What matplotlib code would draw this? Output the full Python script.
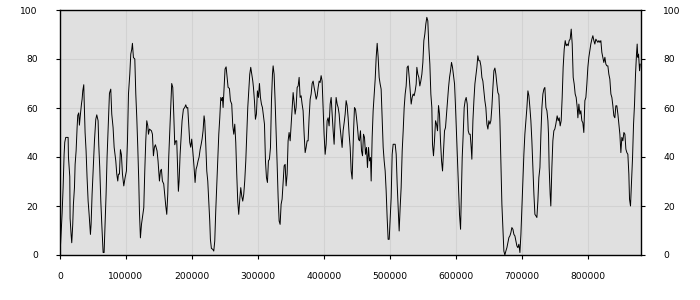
import numpy as np
import matplotlib
matplotlib.use("Agg")
import matplotlib.pyplot as plt

# posiciones en miles (eje x) y valores, por tramos
pos_a = [0, 3.2, 4.7, 6.2, 7.2, 8.7, 12.3, 12.8, 14.8, 15.3,
         16.8, 17.8, 19.3, 20.3, 21.9, 22.9, 24.4, 25.9, 26.9, 28.4,
         29.4, 30.4, 32.5, 33.5, 34.5, 36, 36.5, 38, 39.5, 41,
         42.6, 44.1, 46.1, 47.1, 48.6, 50.6, 52.2, 54.2, 55.7, 57.7,
         58.7, 60.2, 61.8, 63.3, 65.3, 66.8, 68.3, 69.8, 71.3, 73.4,
         74.9, 76.9, 78.4, 80.4, 82, 84.5, 86, 87.5, 88.5, 90,
         91.5, 93, 94.6, 96.6, 98.6, 100.6, 102.2, 103.7, 105.7, 107.2,
         108.7, 109.7, 111.2, 113.3, 114.8, 116.3, 117.8, 119.3, 120.3, 121.8,
         123.4, 124.9, 126.9, 128.4, 129.9, 131.4, 133, 134, 135.5, 138.5,
         140, 141.5, 143]
val_a = [0, 17, 27.5, 41, 46, 48, 48, 40, 32, 15,
         8.4, 5, 12.5, 20.7, 27.5, 37, 42.5, 52, 57, 58,
         53, 56, 61.6, 63.6, 67, 69.5, 64, 50, 42.5, 31.6,
         22, 16.6, 8.4, 12.5, 24.8, 37, 46.6, 55.4, 57.2, 54.8,
         45, 35.7, 22, 12.5, 1, 1, 12.5, 24.8, 40, 55,
         66, 67.7, 57.5, 52, 44, 38.4, 33, 30.2, 33, 33,
         43, 41, 33, 28.2, 31.6, 34.3, 46.6, 65.7, 73.8, 82,
         84, 86.4, 80.6, 80, 65.7, 56, 44, 30.2, 18, 7,
         12.5, 15.3, 19.3, 34.3, 46.6, 54.8, 52.7, 49.3, 51.4, 50.7,
         49.3, 40.5, 44]

pos_b = [144.5, 147, 148.5, 150.6, 152.1, 153.6, 155.1, 157.1, 158.6, 160.2,
         161.7, 163.2, 164.7, 166.2, 167.7, 169.2, 170.8, 172.3, 173.8, 175.3,
         176.8, 177.8, 179.3, 180.4, 181.9, 183.4, 184.9, 186.9, 188.9, 190.5,
         192, 193.5, 195, 196.5, 198, 199.5, 201.1, 203.1, 204.6, 206.1,
         207.6, 209.1, 210.7, 212.2, 213.7, 215.2, 216.7, 218.2, 219.2, 220.8,
         222.3, 223.8, 225.3, 226.8, 227.8, 229.3, 231.4, 232.9, 234.4, 235.9,
         237.4, 238.9, 240.5, 242, 243.5, 245, 246, 247, 248.5, 250,
         251.6, 253.1, 254.6, 256.6, 258.1, 260.1, 261.7, 263.2, 264.7, 266.2,
         267.7, 269.2, 270.7, 272.3, 273.8, 275.3, 276.8, 278.3, 279.8, 281.4,
         282.9, 284.4, 285.9, 287.4, 288.9, 290.4, 292]
val_b = [45, 42.5, 38.4, 30.2, 34.3, 35, 30.2, 29, 24.8, 20,
         16.6, 24.8, 40, 50.7, 60.2, 70, 68.4, 57.5, 45, 46.6,
         46.6, 38.4, 26, 30.2, 41, 48, 54.8, 59.5, 60.2, 61.3,
         60, 60.2, 53.4, 46, 44, 47.3, 42.5, 35.7, 29.6, 35,
         36.4, 38.4, 40, 43, 45, 47.3, 50.7, 56.8, 54.8, 45,
         34.3, 30.2, 22, 13.9, 6.4, 2.7, 2.3, 1.6, 5.7, 18,
         28.2, 38.4, 49.3, 56, 64.3, 63, 64.3, 60.2, 68.4, 75.9,
         76.8, 72.5, 68.4, 68, 63, 61.6, 52.7, 49.3, 53.4, 46,
         33, 22, 16.6, 22.8, 27.5, 24, 22, 24.8, 30.2, 38.4,
         49.3, 60.2, 67, 73.8, 76.6, 73.8, 71]

pos_c = [293, 294.5, 296, 297.5, 299, 300.6, 302.1, 303.6, 305.1, 306.6,
         308.2, 309.7, 311.2, 312.7, 314.2, 315.7, 317.2, 318.8, 320.3, 321.8,
         322.8, 324.3, 325.8, 327.3, 328.9, 330.4, 331.9, 333.4, 334.9, 336.4,
         338, 339.5, 341, 342.5, 344, 345.5, 347, 348.6, 350.1, 351.6,
         353.1, 354.6, 356.1, 357.6, 359.2, 360.7, 362.2, 363.7, 365.2, 366.7,
         368.2, 369.8, 371.3, 372.8, 374.3, 375.8, 377.3, 378.9, 380.4, 381.9,
         383.4, 384.9, 386.4, 388, 389.5, 391, 392.5, 394, 395.5, 397,
         398.5, 400, 401.6, 403.1, 404.6, 406.1, 407.6, 409.2, 410.7, 412.2,
         413.7, 415.2, 416.7, 418.2, 419.8, 421.3, 422.8, 424.3, 425.8, 427.3,
         428.8, 430.4, 431.9, 433.4, 434.9, 436.4, 437.9, 439.5, 441, 442.5]
val_c = [68.4, 63, 55.4, 57.5, 67, 64.3, 70, 64.3, 61.6, 60.2,
         56.8, 53.4, 38.4, 31.6, 29.6, 38.4, 39.1, 43.9, 63, 73.8,
         77.2, 73.8, 63, 50.7, 37, 23.4, 13.9, 12.5, 20.7, 22.8,
         30.2, 36.4, 37, 28.2, 33, 46.6, 50, 46.6, 53.4, 60.2,
         66.3, 62.3, 57.5, 60.2, 68.4, 69, 72.5, 64.3, 65, 61.6,
         58.9, 49.3, 41.8, 43.9, 46.6, 46.6, 56, 63.6, 65.7, 70,
         71, 68.4, 66.3, 63.6, 65, 68.4, 71, 70.4, 73.2, 71,
         60.2, 49.3, 41.1, 45.2, 54.8, 56, 52.7, 61.6, 64.3, 57.5,
         50.7, 45.2, 56, 64.3, 61.6, 60.2, 57.5, 52, 48, 43.9,
         50.7, 54, 57.5, 63, 61, 56, 49.3, 43.9, 34.3, 31]

pos_d = [444.5, 446, 447.6, 449.1, 450.6, 452.1, 453.6, 455.1, 456.7, 458.2,
         459.7, 461.2, 462.7, 464.2, 465.7, 467.3, 468.8, 470.3, 471.3, 472.8,
         474.3, 475.8, 477.4, 478.9, 480.4, 481.9, 483.4, 484.9, 486.4, 488,
         489.5, 491, 492.5, 494, 495.5, 497, 498.6, 500.1, 501.6, 503.1,
         504.6, 507.7, 509.2, 510.7, 512.2, 513.7, 515.2, 516.7, 518.3, 519.8,
         521.3, 522.8, 524.3, 525.8, 527.4, 528.9, 530.4, 531.9, 533.4, 534.9,
         536.4, 538, 539.5, 540.5, 542, 543.5, 545, 546.5, 548.1, 549.6,
         551.1, 552.6, 554.1, 555.6, 557.1, 558.7, 560.2, 561.7, 563.2, 564.2,
         565.7, 567.2, 568.8, 570.3, 571.8, 573.3, 574.8, 576.3, 577.9, 579.4,
         580.9, 582.4, 583.9, 585.4, 587, 588.5, 590]
val_d = [49.3, 60.2, 59.5, 56, 52, 47.3, 46.6, 50.7, 42.5, 40.5,
         49.3, 48, 41.1, 43.9, 35.7, 43.9, 38.4, 39.8, 30.2, 48,
         58.9, 65, 71.8, 80.7, 86.4, 80.7, 72.5, 69.8, 67.7, 56,
         43.9, 38.4, 34.3, 26.2, 15.3, 6.4, 6.4, 15.3, 23.4, 41.1,
         45.2, 45.2, 41.1, 28.9, 19.3, 9.8, 19.3, 27.5, 42.5, 50.7,
         60.2, 65.7, 69, 76.6, 77.2, 72.5, 67, 61.6, 64.3, 65.7,
         65, 67, 69.8, 76.6, 73.8, 72.5, 69, 71, 73.8, 78.6,
         87.5, 90.2, 94.3, 97, 95.6, 84.7, 77.9, 65.7, 60.2, 45.2,
         40.5, 46.6, 54.8, 53.4, 50.7, 61, 57.5, 46.6, 38.4, 34.3,
         42.5, 50.7, 52, 57.5, 63, 68.4, 72.5]

pos_e = [591.5, 593, 594.5, 596, 597.6, 599.1, 600.6, 602.1, 603.6, 605.1,
         606.7, 607.7, 609.2, 610.7, 612.2, 613.7, 615.2, 616.8, 618.3, 619.8,
         621.3, 622.8, 623.8, 625.4, 626.9, 628.4, 629.9, 631.4, 632.9, 634.4,
         636, 637.5, 639, 640.5, 642, 643.5, 645, 646.6, 648.1, 649.6,
         651.1, 652.6, 654.1, 655.7, 657.2, 658.7, 660.2, 661.7, 663.2, 664.7,
         666.3, 667.8, 669.3, 670.8, 672.3, 673.8, 675.3, 676.9, 678.4, 679.9,
         681.4, 682.9, 684.4, 686, 687.5, 689, 690.5, 692, 693.5, 695,
         696.6, 698.1, 699.6, 701.1, 702.6, 704.1, 705.6, 707.2, 708.7, 710.2,
         711.7, 713.2, 714.7, 716.3, 717.8, 719.3, 720.8, 722.3, 723.8, 725.3,
         726.9, 728.4, 729.9, 731.4, 732.9, 734.4, 736, 737.5, 739]
val_e = [75.2, 78.6, 76.6, 73.2, 69.8, 60.2, 49.3, 38.4, 27.5, 16.6,
         10.5, 22, 39.8, 49.3, 60.2, 63, 64.3, 61.6, 50.7, 49.3,
         49.3, 43.9, 39.1, 54.8, 63, 69.8, 73.2, 76.6, 81.3, 79.3,
         79.3, 77.2, 72.5, 71, 67, 63, 60.2, 53.4, 51.4, 54.8,
         53.4, 54.8, 60.2, 68.4, 75.2, 76.3, 73.8, 69.8, 66.3, 65.4,
         54.8, 38.4, 20.7, 11.2, 1.6, 0, 1.6, 3, 5, 7.1,
         7.8, 9.1, 11.2, 10.5, 8.4, 7.8, 5.7, 3.7, 3, 4.4,
         1, 8.4, 19.3, 30.2, 41.1, 49.3, 54.8, 60.2, 67, 65,
         60.2, 54.8, 46.6, 35.7, 24.8, 16.6, 16, 15.3, 22, 31.6,
         35.7, 49.3, 60.2, 65.7, 67.7, 68.4, 60.2, 58.9, 54.8]

pos_f = [739.9, 740.9, 742.4, 743.4, 745, 746.5, 748, 749.5, 751, 753,
         754.6, 756.1, 757.6, 759.1, 760.6, 762.1, 763.7, 765.2, 766.7, 768.2,
         769.7, 771.2, 772.7, 774.3, 775.8, 777.3, 778.8, 780.3, 781.8, 783.4,
         784.4, 785.9, 787.4, 788.9, 790.4, 791.9, 793.4, 795, 796.5, 798,
         799.5, 801, 802.5, 804, 805.6, 807.1, 808.6, 810.1, 811.6, 813.1,
         814.7, 816.2, 817.7, 819.2, 820.7, 822.2, 823.7, 825.3, 826.8, 828.3,
         829.8, 831.3, 832.8, 834.4, 835.9, 837.4, 838.9, 840.4, 841.9, 843.4,
         845, 846.5, 848, 849.5, 851, 852.5, 854.1, 855.6, 857.1, 858.6,
         860.1, 861.6, 862.6, 864.1, 865.7, 867.2, 868.7, 870.2, 871.7, 873.2,
         874.2, 875.2, 876.3, 877.8, 878.8]
val_f = [49.3, 35.7, 24.8, 20, 35.7, 46.6, 50.7, 51.4, 53.4, 56.8,
         54.8, 56, 52.7, 54.8, 64.3, 76.6, 84, 87.5, 85.4, 86.1,
         85.4, 87.5, 88.1, 92.2, 86.1, 72.5, 69.8, 65.7, 64.3, 60.2,
         56, 61.6, 57.5, 58.9, 54.8, 54, 50, 63, 64.3, 69.8,
         76.6, 80.7, 83.4, 86.1, 88.1, 89.5, 87.5, 86.1, 88.1, 87.5,
         86.8, 87.5, 86.8, 87.5, 82.7, 80.7, 78.6, 80.7, 77.9, 77.2,
         77.2, 73.8, 71.8, 65.7, 64.3, 60.9, 56.8, 56, 60.9, 60.9,
         57.5, 53.4, 49.3, 41.8, 48, 46.6, 50, 49.3, 43.2, 41.8,
         41.1, 33, 22.8, 20, 30.2, 39.8, 53.4, 61.6, 73.8, 82,
         86.1, 80.7, 82, 75.2, 77.9]

x_ticks = [0, 100000, 200000, 300000, 400000, 500000, 600000, 700000, 800000]
y_ticks = [0, 20, 40, 60, 80, 100]

x = np.array(pos_a + pos_b + pos_c + pos_d + pos_e + pos_f) * 1000
y = np.array(val_a + val_b + val_c + val_d + val_e + val_f)

fig = plt.figure(figsize=(7, 3), dpi=100)
ax = fig.add_axes([60 / 700, 45 / 300, 581 / 700, 245 / 300])
ax.set_facecolor("#e0e0e0")
ax.plot(x, y, color="black", lw=0.7)

ax.set_xlim(0, 880000)
ax.set_ylim(0, 100)
ax.set_xticks(x_ticks)
ax.set_xticklabels([str(t) for t in x_ticks])
ax.set_yticks(y_ticks)
ax.grid(True, color="#d2d2d2", lw=0.8)
ax.set_axisbelow(True)

ax.tick_params(axis="y", which="both", direction="out", length=3, width=0.8,
               labelsize=6.6, pad=13, right=True, labelright=True)
ax.tick_params(axis="x", direction="out", length=3, width=0.8, labelsize=6.6, pad=9)
for s in ax.spines.values():
    s.set_linewidth(1.0)
    s.set_color("black")

fig.savefig("out.png", dpi=100, facecolor="white")
